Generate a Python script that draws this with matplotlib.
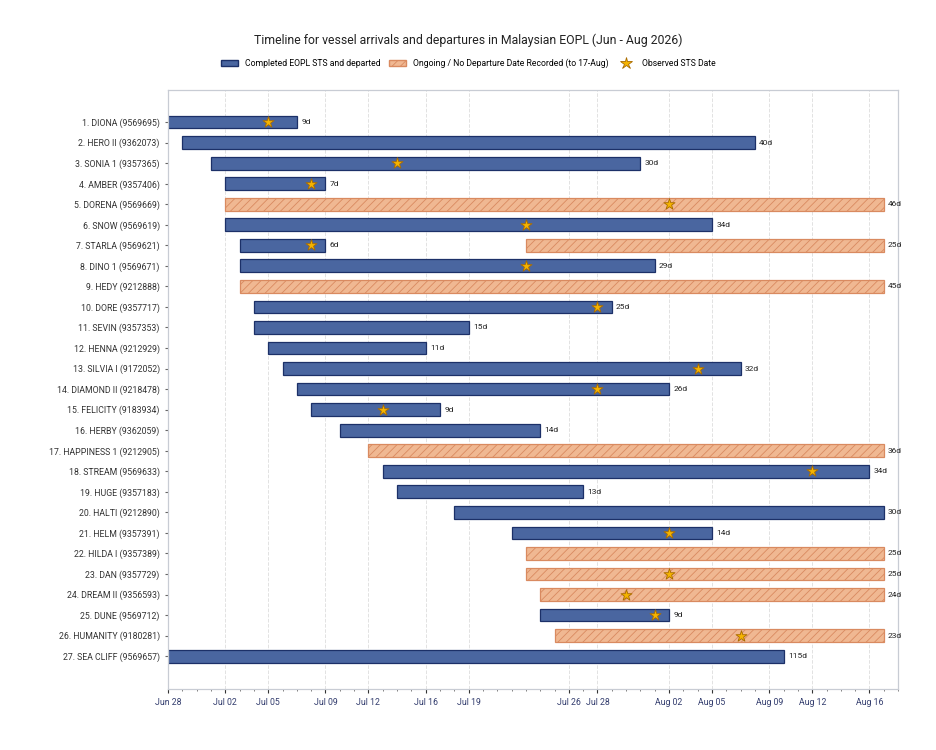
import datetime as dt
import matplotlib
matplotlib.use("Agg")
import matplotlib.pyplot as plt
import matplotlib.dates as mdates
from matplotlib.patches import Patch
from matplotlib.lines import Line2D

plt.rcParams['font.family'] = ['Roboto', 'DejaVu Sans']
plt.rcParams['hatch.linewidth'] = 0.6

D = dt.date

vessels = ["1. DIONA (9569695)", "2. HERO II (9362073)", "3. SONIA 1 (9357365)",
           "4. AMBER (9357406)", "5. DORENA (9569669)", "6. SNOW (9569619)",
           "7. STARLA (9569621)", "8. DINO 1 (9569671)", "9. HEDY (9212888)",
           "10. DORE (9357717)", "11. SEVIN (9357353)", "12. HENNA (9212929)",
           "13. SILVIA I (9172052)", "14. DIAMOND II (9218478)", "15. FELICITY (9183934)",
           "16. HERBY (9362059)", "17. HAPPINESS 1 (9212905)", "18. STREAM (9569633)",
           "19. HUGE (9357183)", "20. HALTI (9212890)", "21. HELM (9357391)",
           "22. HILDA I (9357389)", "23. DAN (9357729)", "24. DREAM II (9356593)",
           "25. DUNE (9569712)", "26. HUMANITY (9180281)", "27. SEA CLIFF (9569657)"]

# segments: row index, start, end, ongoing?
seg_row = [0, 1, 2, 3, 4, 5, 6, 6, 7, 8, 9, 10, 11, 12, 13, 14, 15, 16, 17,
           18, 19, 20, 21, 22, 23, 24, 25, 26]
seg_start = [D(2026, 6, 28), D(2026, 6, 29), D(2026, 7, 1), D(2026, 7, 2), D(2026, 7, 2),
             D(2026, 7, 2), D(2026, 7, 3), D(2026, 7, 23), D(2026, 7, 3), D(2026, 7, 3),
             D(2026, 7, 4), D(2026, 7, 4), D(2026, 7, 5), D(2026, 7, 6), D(2026, 7, 7),
             D(2026, 7, 8), D(2026, 7, 10), D(2026, 7, 12), D(2026, 7, 13), D(2026, 7, 14),
             D(2026, 7, 18), D(2026, 7, 22), D(2026, 7, 23), D(2026, 7, 23), D(2026, 7, 24),
             D(2026, 7, 24), D(2026, 7, 25), D(2026, 4, 17)]
seg_end = [D(2026, 7, 7), D(2026, 8, 8), D(2026, 7, 31), D(2026, 7, 9), D(2026, 8, 17),
           D(2026, 8, 5), D(2026, 7, 9), D(2026, 8, 17), D(2026, 8, 1), D(2026, 8, 17),
           D(2026, 7, 29), D(2026, 7, 19), D(2026, 7, 16), D(2026, 8, 7), D(2026, 8, 2),
           D(2026, 7, 17), D(2026, 7, 24), D(2026, 8, 17), D(2026, 8, 16), D(2026, 7, 27),
           D(2026, 8, 17), D(2026, 8, 5), D(2026, 8, 17), D(2026, 8, 17), D(2026, 8, 17),
           D(2026, 8, 2), D(2026, 8, 17), D(2026, 8, 10)]
seg_ongoing = [False, False, False, False, True, False, False, True, False, True,
               False, False, False, False, False, False, False, True, False, False,
               False, False, True, True, True, False, True, False]

star_row = [0, 2, 3, 4, 5, 6, 7, 9, 12, 13, 14, 17, 20, 22, 23, 24, 25]
star_date = [D(2026, 7, 5), D(2026, 7, 14), D(2026, 7, 8), D(2026, 8, 2), D(2026, 7, 23),
             D(2026, 7, 8), D(2026, 7, 23), D(2026, 7, 28), D(2026, 8, 4), D(2026, 7, 28),
             D(2026, 7, 13), D(2026, 8, 12), D(2026, 8, 2), D(2026, 8, 2), D(2026, 7, 30),
             D(2026, 8, 1), D(2026, 8, 7)]

tick_dates = [D(2026, 6, 28), D(2026, 7, 2), D(2026, 7, 5), D(2026, 7, 9), D(2026, 7, 12),
              D(2026, 7, 16), D(2026, 7, 19), D(2026, 7, 26), D(2026, 7, 28), D(2026, 8, 2),
              D(2026, 8, 5), D(2026, 8, 9), D(2026, 8, 12), D(2026, 8, 16)]

BLUE = "#4a66a0"
BLUE_EDGE = "#1c3068"
ORANGE = "#f0b892"
ORANGE_EDGE = "#d98a60"
GOLD = "#f5b400"

fig = plt.figure(figsize=(9.36, 7.5), dpi=100)
ax = fig.add_axes([0.1795, 0.0813, 0.78, 0.7987])

for r, s, e, og in zip(seg_row, seg_start, seg_end, seg_ongoing):
    x0 = mdates.date2num(s)
    w = (e - s).days
    if og:
        ax.barh(r, w, left=x0, height=0.62, color=ORANGE, edgecolor=ORANGE_EDGE,
                hatch="////", linewidth=0.9, zorder=2)
    else:
        ax.barh(r, w, left=x0, height=0.62, color=BLUE, edgecolor=BLUE_EDGE,
                linewidth=0.9, zorder=2)
    ax.text(x0 + w + 0.3, r, f"{w}d", va="center", ha="left", fontsize=6,
            color="#222222", zorder=4)

ax.scatter([mdates.date2num(d) for d in star_date], star_row, marker="*", s=70,
           color=GOLD, edgecolor="#a86a00", linewidth=0.6, zorder=3)

ax.set_yticks(range(len(vessels)))
ax.set_yticklabels(vessels, fontsize=6.3, color="#333333")
ax.set_ylim(26 + 1.6, -1.56)

ax.set_xlim(mdates.date2num(D(2026, 6, 28)), mdates.date2num(D(2026, 8, 18)))
ax.set_xticks([mdates.date2num(d) for d in tick_dates])
ax.xaxis.set_major_formatter(mdates.DateFormatter("%b %d"))
ax.xaxis.set_minor_locator(mdates.DayLocator())
ax.tick_params(axis="x", labelsize=6.3, labelcolor="#333d6e", length=3, color="#333333")
ax.tick_params(axis="x", which="minor", length=1.5, color="#666666")
ax.tick_params(axis="y", length=2.5, color="#666666")
ax.grid(axis="x", linestyle="--", color="#e2e2e2", linewidth=0.7, zorder=0)
ax.set_axisbelow(True)
for sp in ax.spines.values():
    sp.set_color("#c8ccd4")
    sp.set_linewidth(0.9)

fig.suptitle("Timeline for vessel arrivals and departures in Malaysian EOPL (Jun - Aug 2026)",
             y=0.955, fontsize=8.8, color="#222222")

handles = [Patch(facecolor=BLUE, edgecolor=BLUE_EDGE, label="Completed EOPL STS and departed"),
           Patch(facecolor=ORANGE, edgecolor=ORANGE_EDGE, hatch="////",
                 label="Ongoing / No Departure Date Recorded (to 17-Aug)"),
           Line2D([], [], marker="*", linestyle="none", markersize=9, markerfacecolor=GOLD,
                  markeredgecolor="#a86a00", markeredgewidth=0.6, label="Observed STS Date")]
fig.legend(handles=handles, loc="center", bbox_to_anchor=(0.5, 0.916), ncol=3,
           frameon=False, fontsize=6.2, handlelength=2.0, columnspacing=1.0)

fig.savefig("out.png", dpi=100)
